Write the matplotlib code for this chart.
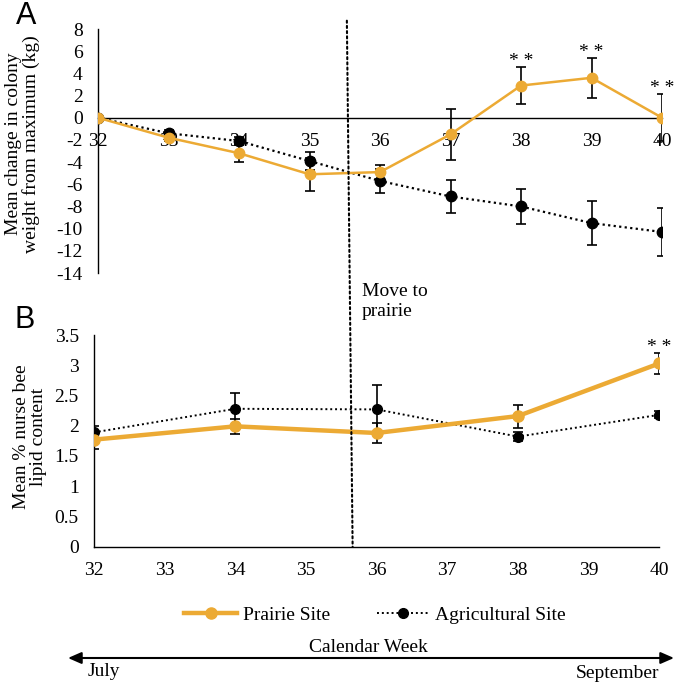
"""Colony weight change and nurse bee lipid content, prairie vs agricultural site."""

import matplotlib
matplotlib.use("Agg")
import matplotlib.pyplot as plt
from matplotlib.lines import Line2D
from matplotlib.patches import ConnectionPatch
from matplotlib.ticker import FormatStrFormatter

plt.rcParams["font.family"] = ["Liberation Serif", "DejaVu Serif"]
plt.rcParams["axes.unicode_minus"] = False

ORANGE = "#ECAA34"
FS = 14

# panel A: mean change in colony weight from maximum (kg)
weeks_a = [32, 33, 34, 35, 36, 37, 38, 39, 40]
prairie_a = [0.0, -1.8, -3.2, -5.1, -4.9, -1.5, 2.9, 3.6, 0.0]
prairie_a_err = [0.0, 0.3, 0.8, 1.5, 0.6, 2.3, 1.7, 1.8, 2.1]
agri_a = [0.0, -1.4, -2.1, -3.9, -5.7, -7.1, -8.0, -9.5, -10.3]
agri_a_err = [0.0, 0.3, 0.4, 0.8, 1.1, 1.5, 1.6, 2.0, 2.2]
sig_a = [38, 39, 40]

# panel B: mean % nurse bee lipid content
weeks_b = [32, 34, 36, 38, 40]
prairie_b = [1.77, 1.99, 1.88, 2.16, 3.03]
prairie_b_err = [0.15, 0.12, 0.17, 0.19, 0.18]
agri_b = [1.89, 2.28, 2.27, 1.82, 2.18]
agri_b_err = [0.10, 0.26, 0.40, 0.08, 0.06]
sig_b = [40]

move_week_a, move_week_b = 35.53, 35.66

fig = plt.figure(figsize=(6.77, 6.87), dpi=100)
W, H = 677, 687


def px_axes(l, r, top, bot):
    return fig.add_axes([l / W, 1 - bot / H, (r - l) / W, (bot - top) / H])


axA = px_axes(98, 662, 29, 273)
axB = px_axes(94, 659.3, 335, 546.7)

for ax in (axA, axB):
    for s in ("top", "right"):
        ax.spines[s].set_visible(False)
    ax.spines["left"].set_linewidth(1.0)
    ax.spines["bottom"].set_linewidth(1.0)
    ax.tick_params(length=0, labelsize=FS, pad=11)
    ax.set_xlim(32, 40)
    ax.set_xticks(range(32, 41))

err_kw = dict(ecolor="black", elinewidth=1.2, capsize=3.5, capthick=1.2)

# panel A
axA.errorbar(weeks_a, agri_a, yerr=agri_a_err, color="black", ls=(0, (1, 1.5)),
             lw=1.6, marker="o", ms=7.5, zorder=3, **err_kw)
axA.errorbar(weeks_a, prairie_a, yerr=prairie_a_err, color=ORANGE, lw=1.8,
             marker="o", ms=7.5, zorder=4, **err_kw)
for w in sig_a:
    i = weeks_a.index(w)
    axA.text(w, prairie_a[i] + prairie_a_err[i] + 0.1, "* *", ha="center",
             va="baseline", fontsize=FS)
axA.set_ylim(-14, 8)
axA.set_yticks(range(-14, 9, 2))
axA.spines["bottom"].set_position(("data", 0))
axA.set_ylabel("Mean change in colony\nweight from maximum (kg)", fontsize=FS,
               linespacing=1.0)
axA.yaxis.set_label_coords(-0.103, 0.53)

# panel B
axB.errorbar(weeks_b, agri_b, yerr=agri_b_err, color="black", ls=(0, (1, 1.5)),
             lw=1.4, marker="o", ms=7, zorder=3, **err_kw)
axB.errorbar(weeks_b, prairie_b, yerr=prairie_b_err, color=ORANGE, lw=3.2,
             marker="o", ms=8, zorder=4, **err_kw)
for w in sig_b:
    i = weeks_b.index(w)
    axB.text(w, prairie_b[i] + prairie_b_err[i] + 0.01, "* *", ha="center",
             va="baseline", fontsize=FS)
axB.set_ylim(0, 3.5)
axB.set_yticks([0, 0.5, 1, 1.5, 2, 2.5, 3, 3.5])
axB.yaxis.set_major_formatter(FormatStrFormatter("%g"))
axB.set_ylabel("Mean % nurse bee\nlipid content", fontsize=FS, linespacing=1.0)
axB.yaxis.set_label_coords(-0.083, 0.52)

# move to prairie marker
con = ConnectionPatch(xyA=(move_week_a, 8.75), coordsA=axA.transData,
                      xyB=(move_week_b, 0), coordsB=axB.transData,
                      color="black", lw=1.5, ls=(0, (1, 1.5)))
fig.add_artist(con)
fig.text(362 / W, 1 - 283 / H, "Move to\nprairie", fontsize=FS, ha="left",
         va="top", linespacing=1.25)

# panel letters
fig.text(26 / W, 1 - 16 / H, "A", fontsize=22, family="Liberation Sans",
         ha="center", va="center")
fig.text(25 / W, 1 - 320 / H, "B", fontsize=22, family="Liberation Sans",
         ha="center", va="center")

# legend
handles = [Line2D([], [], color=ORANGE, lw=3.2, marker="o", ms=8),
           Line2D([], [], color="black", lw=1.4, ls=(0, (1, 1.5)), marker="o", ms=7)]
fig.legend(handles, ["Prairie Site", "Agricultural Site"], ncol=2, frameon=False,
           loc="center", bbox_to_anchor=(375 / W, 1 - 615 / H), fontsize=FS,
           handlelength=2.7, handletextpad=0.3, columnspacing=2.4)

# calendar arrow
fig.text(368 / W, 1 - 647 / H, "Calendar Week", fontsize=FS, ha="center", va="center")
fig.add_artist(plt.Annotation("", xy=(674 / W, 1 - 658 / H), xytext=(68 / W, 1 - 658 / H),
                              xycoords="figure fraction", textcoords="figure fraction",
                              arrowprops=dict(arrowstyle="<|-|>,head_length=0.8,head_width=0.35",
                                              color="black", lw=1.5, shrinkA=0, shrinkB=0)))
fig.text(88 / W, 1 - 672 / H, "July", fontsize=FS, ha="left", va="center")
fig.text(659 / W, 1 - 674 / H, "September", fontsize=FS, ha="right", va="center")

fig.savefig("out.png", dpi=100)
